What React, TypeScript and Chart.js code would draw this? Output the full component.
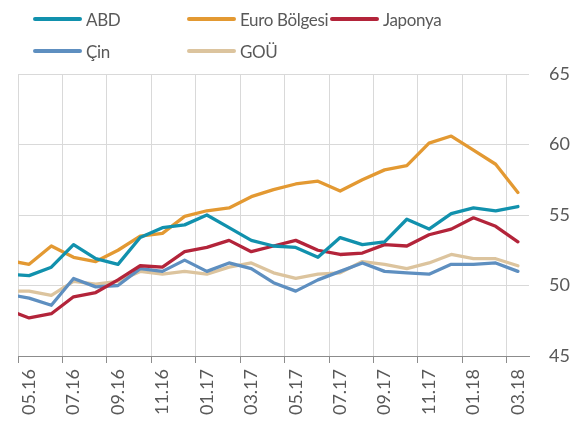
import React, { useEffect, useRef } from "react";
import { Chart, registerables } from "chart.js";

Chart.register(...registerables);

const months = [
  "04.16", "05.16", "06.16", "07.16", "08.16", "09.16", "10.16", "11.16", "12.16",
  "01.17", "02.17", "03.17", "04.17", "05.17", "06.17", "07.17", "08.17", "09.17",
  "10.17", "11.17", "12.17", "01.18", "02.18", "03.18",
];

const abd = [50.8, 50.7, 51.3, 52.9, 51.9, 51.5, 53.4, 54.1, 54.3, 55.0, 54.1, 53.2, 52.8, 52.7, 52.0, 53.4, 52.9, 53.1, 54.7, 54.0, 55.1, 55.5, 55.3, 55.6];
const euro = [51.8, 51.5, 52.8, 52.0, 51.7, 52.5, 53.5, 53.7, 54.9, 55.3, 55.5, 56.3, 56.8, 57.2, 57.4, 56.7, 57.5, 58.2, 58.5, 60.1, 60.6, 59.6, 58.6, 56.6];
const japonya = [48.3, 47.7, 48.0, 49.2, 49.5, 50.4, 51.4, 51.3, 52.4, 52.7, 53.2, 52.4, 52.8, 53.2, 52.5, 52.2, 52.3, 52.9, 52.8, 53.6, 54.0, 54.8, 54.2, 53.1];
const cin = [49.4, 49.1, 48.6, 50.5, 49.9, 50.0, 51.2, 51.0, 51.8, 51.0, 51.6, 51.2, 50.2, 49.6, 50.4, 51.0, 51.6, 51.0, 50.9, 50.8, 51.5, 51.5, 51.6, 51.0];
const gou = [49.6, 49.6, 49.3, 50.3, 50.1, 50.3, 51.0, 50.8, 51.0, 50.8, 51.3, 51.6, 50.9, 50.5, 50.8, 50.9, 51.7, 51.5, 51.2, 51.6, 52.2, 51.9, 51.9, 51.4];

const firstShown = "05.16";
const yMin = 45;
const yMax = 65;
const yStep = 5;

const series = [
  { name: "ABD", data: abd, color: "#1191ad" },
  { name: "Euro Bölgesi", data: euro, color: "#e39932" },
  { name: "Japonya", data: japonya, color: "#b3243a" },
  { name: "Çin", data: cin, color: "#5e8fc0" },
  { name: "GOÜ", data: gou, color: "#dcc49e" },
];

const legendPos = [
  { left: 33, top: 19 },
  { left: 187, top: 19 },
  { left: 330, top: 19 },
  { left: 33, top: 51 },
  { left: 187, top: 51 },
];

const FONT = "Lato";
const TEXT = "#595959";

export default function App() {
  const ref = useRef<HTMLCanvasElement | null>(null);

  useEffect(() => {
    if (!ref.current) return;
    const chart = new Chart(ref.current, {
      type: "line",
      data: {
        labels: months,
        datasets: series.map((s) => ({
          label: s.name,
          data: s.data,
          borderColor: s.color,
          backgroundColor: s.color,
          borderWidth: 3.3,
          pointRadius: 0,
          tension: 0,
          borderJoinStyle: "round" as const,
          borderCapStyle: "round" as const,
        })),
      },
      options: {
        responsive: false,
        animation: false,
        devicePixelRatio: 1,
        layout: { padding: { left: 18, top: 74, right: 0, bottom: 0 } },
        plugins: { legend: { display: false }, tooltip: { enabled: false } },
        scales: {
          x: {
            type: "category",
            min: firstShown,
            offset: true,
            grid: {
              offset: true,
              lineWidth: 1,
              color: (ctx: any) => (typeof ctx.index === "number" && ctx.index % 2 === 0 ? "#d9d9d9" : "rgba(0,0,0,0)"),
              tickColor: (ctx: any) => (typeof ctx.index === "number" && ctx.index % 2 === 0 ? "#8c8c8c" : "rgba(0,0,0,0)"),
              tickLength: 7,
            },
            border: { display: true, color: "#8c8c8c", width: 1 },
            ticks: {
              autoSkip: false,
              minRotation: 90,
              maxRotation: 90,
              padding: 6,
              color: TEXT,
              font: { family: FONT, size: 18 },
              callback: function (this: any, value: any, index: number) {
                return index % 2 === 0 ? this.getLabelForValue(value) : "";
              },
            },
            afterFit: (scale: any) => {
              scale.height = 65;
            },
          },
          y: {
            position: "right",
            min: yMin,
            max: yMax,
            grid: { color: "#d9d9d9", lineWidth: 1, drawTicks: false },
            border: { display: false },
            ticks: {
              stepSize: yStep,
              padding: 20,
              color: TEXT,
              font: { family: FONT, size: 18 },
            },
            afterFit: (scale: any) => {
              scale.width = 58;
            },
          },
        },
      },
    });
    return () => chart.destroy();
  }, []);

  return (
    <div style={{ position: "fixed", left: 0, top: 0, width: 587, height: 421, background: "#fff" }}>
      <canvas ref={ref} width={587} height={421} style={{ position: "absolute", left: 0, top: 0 }} />
      {series.map((s, i) => (
        <div
          key={s.name}
          style={{
            position: "absolute",
            left: legendPos[i].left,
            top: legendPos[i].top - 12,
            height: 24,
            display: "flex",
            alignItems: "center",
            fontFamily: FONT,
            fontSize: 17,
            letterSpacing: "-0.35px",
            color: TEXT,
            whiteSpace: "nowrap",
          }}
        >
          <span
            style={{
              display: "inline-block",
              width: 49,
              height: 4,
              borderRadius: 2,
              background: s.color,
              marginRight: 4,
            }}
          />
          <span>{s.name}</span>
        </div>
      ))}
    </div>
  );
}
